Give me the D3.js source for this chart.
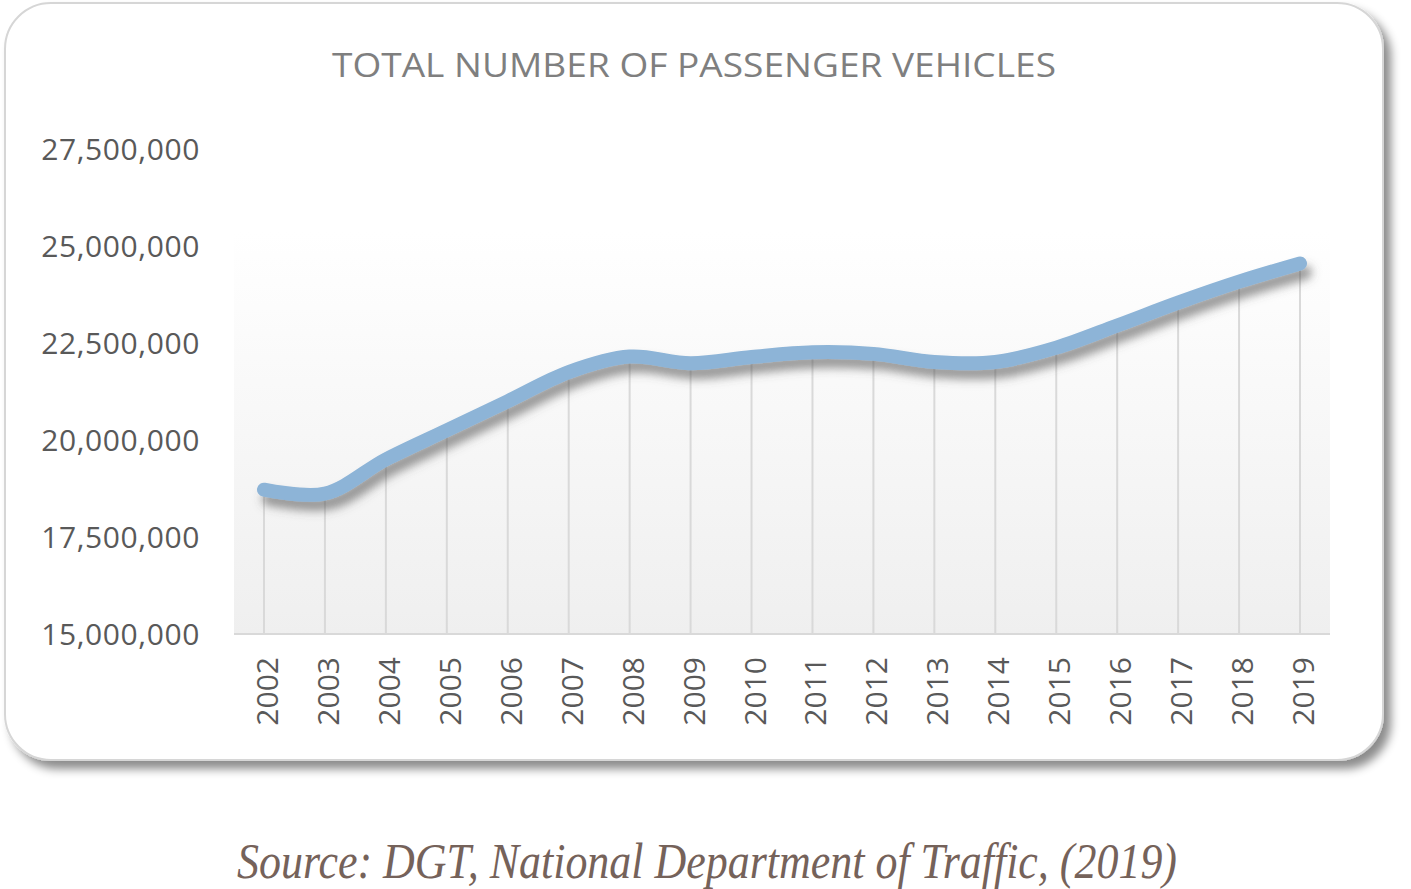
<!DOCTYPE html>
<html>
<head>
<meta charset="utf-8">
<script src="https://cdn.jsdelivr.net/npm/d3@7"></script>
<style>
  html, body { margin: 0; padding: 0; background: #ffffff; }
  svg { display: block; }
</style>
</head>
<body>
<svg id="chart" width="1411" height="889"></svg>
<script>
// ---- Data ----
const years = ["2002","2003","2004","2005","2006","2007","2008","2009","2010",
               "2011","2012","2013","2014","2015","2016","2017","2018","2019"];
const vehicles = [18720000, 18620000, 19500000, 20250000, 21000000, 21750000,
                  22150000, 21980000, 22140000, 22260000, 22220000, 22010000,
                  22010000, 22380000, 22950000, 23540000, 24080000, 24550000];
const yTicks = [15000000, 17500000, 20000000, 22500000, 25000000, 27500000];
const titleText = "TOTAL NUMBER OF PASSENGER VEHICLES";
const sourceText = "Source: DGT, National Department of Traffic, (2019)";

// ---- Layout ----
const svg = d3.select("#chart");
const plot = { left: 234, right: 1330, top: 149, bottom: 634 };

const defs = svg.append("defs");
const cardShadow = defs.append("filter").attr("id", "cardShadow")
  .attr("x", "-5%").attr("y", "-5%").attr("width", "115%").attr("height", "115%");
cardShadow.append("feDropShadow").attr("dx", 7).attr("dy", 8)
  .attr("stdDeviation", 5).attr("flood-color", "#000").attr("flood-opacity", 0.45);

const lineShadow = defs.append("filter").attr("id", "lineShadow")
  .attr("x", "-10%").attr("y", "-30%").attr("width", "120%").attr("height", "160%");
lineShadow.append("feDropShadow").attr("dx", 5).attr("dy", 9)
  .attr("stdDeviation", 5).attr("flood-color", "#555").attr("flood-opacity", 0.6);

const grad = defs.append("linearGradient").attr("id", "plotGrad")
  .attr("x1", 0).attr("y1", 0).attr("x2", 0).attr("y2", 1);
grad.append("stop").attr("offset", "0%").attr("stop-color", "#ffffff");
grad.append("stop").attr("offset", "17%").attr("stop-color", "#ffffff");
grad.append("stop").attr("offset", "100%").attr("stop-color", "#efefef");

// Card
svg.append("rect")
  .attr("x", 5).attr("y", 3).attr("width", 1378).attr("height", 757)
  .attr("rx", 46).attr("ry", 46)
  .attr("fill", "#ffffff").attr("stroke", "#d6d6d6").attr("stroke-width", 2)
  .attr("filter", "url(#cardShadow)");

// Scales
const x = d3.scalePoint().domain(years).range([264, 1300]);
const y = d3.scaleLinear().domain([15000000, 27500000]).range([plot.bottom, plot.top]);

// Plot background
svg.append("rect")
  .attr("x", plot.left).attr("y", plot.top)
  .attr("width", plot.right - plot.left).attr("height", plot.bottom - plot.top)
  .attr("fill", "url(#plotGrad)");

// Drop lines
svg.append("g").selectAll("line").data(years).join("line")
  .attr("x1", d => x(d)).attr("x2", d => x(d))
  .attr("y1", (d, i) => y(vehicles[i])).attr("y2", plot.bottom)
  .attr("stroke", "#d9d9d9").attr("stroke-width", 2);

// X axis line
svg.append("line")
  .attr("x1", plot.left).attr("x2", plot.right)
  .attr("y1", plot.bottom).attr("y2", plot.bottom)
  .attr("stroke", "#d9d9d9").attr("stroke-width", 2);

// Y axis labels
const yAxis = d3.axisLeft(y).tickValues(yTicks).tickSize(0).tickPadding(0)
  .tickFormat(d3.format(","));
const yg = svg.append("g").attr("transform", "translate(200,0)").call(yAxis);
yg.select(".domain").remove();
yg.selectAll("text")
  .attr("font-family", "'Open Sans', sans-serif").attr("font-size", 30)
  .attr("letter-spacing", 0.6)
  .attr("fill", "#595959").attr("dy", "0.36em");

// X axis labels (rotated)
const xAxis = d3.axisBottom(x).tickSize(0).tickPadding(0);
const xg = svg.append("g").attr("transform", `translate(0,${plot.bottom})`).call(xAxis);
xg.select(".domain").remove();
xg.selectAll("text")
  .attr("font-family", "'Open Sans', sans-serif").attr("font-size", 30)
  .attr("fill", "#595959")
  .attr("text-anchor", "end")
  .attr("dy", null)
  .attr("dominant-baseline", "central")
  .attr("transform", "translate(2,23) rotate(-90)")
  .attr("x", 0).attr("y", 0);

// Line
const line = d3.line()
  .x((d, i) => x(years[i]))
  .y(d => y(d))
  .curve(d3.curveCatmullRom.alpha(0.5));
svg.append("path")
  .datum(vehicles)
  .attr("d", line)
  .attr("fill", "none")
  .attr("stroke", "#8db4d7")
  .attr("stroke-width", 14)
  .attr("stroke-linecap", "round")
  .attr("stroke-linejoin", "round")
  .attr("filter", "url(#lineShadow)");

// Title
svg.append("text")
  .attr("x", 694).attr("y", 77)
  .attr("text-anchor", "middle")
  .attr("font-family", "'Open Sans', sans-serif").attr("font-size", 33)
  .attr("fill", "#7f7f7f")
  .attr("textLength", 724).attr("lengthAdjust", "spacingAndGlyphs")
  .text(titleText);

// Source
svg.append("text")
  .attr("x", 237).attr("y", 878)
  .attr("font-family", "'Liberation Serif', 'Times New Roman', serif")
  .attr("font-style", "italic").attr("font-size", 50)
  .attr("fill", "#75625a")
  .attr("textLength", 940).attr("lengthAdjust", "spacingAndGlyphs")
  .text(sourceText);
</script>
</body>
</html>
